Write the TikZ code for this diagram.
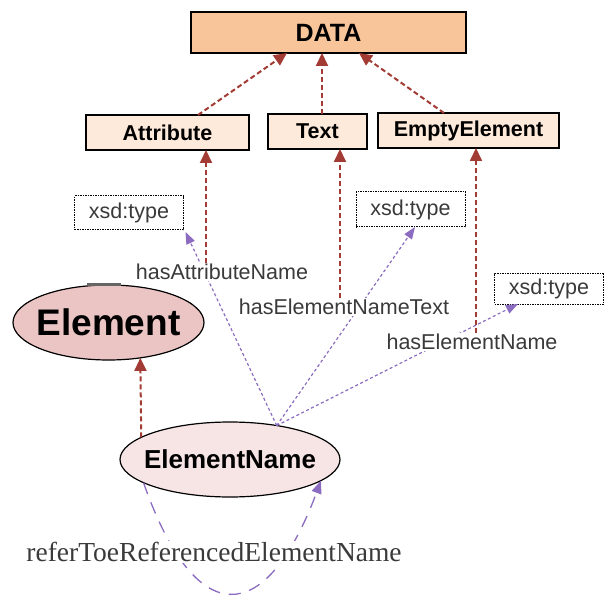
\documentclass[tikz,border=0pt]{standalone}
\usepackage{fontspec}
\setmainfont{Liberation Sans}
\newfontfamily\timesfont{Liberation Serif}
\usepackage{tikz}
\newcommand*{\pageW}{605}
\newcommand*{\pageH}{596}
\usetikzlibrary{positioning}
\usetikzlibrary{shapes.geometric}
\usetikzlibrary{arrows.meta}
\definecolor{dataorange}{HTML}{F8C49A}
\definecolor{classpeach}{HTML}{FDEADB}
\definecolor{elempink}{HTML}{EBC4C4}
\definecolor{namepink}{HTML}{F7E5E5}
\definecolor{domred}{HTML}{A23B33}
\definecolor{rangepurple}{HTML}{8C6CC0}
\definecolor{labelgray}{HTML}{3A3A3A}
\tikzset{ONTstyle/.style={
    x=1pt,y=-1pt,% one unit is one pixel of the reference
    every node/.style={inner sep=0pt,outer sep=0pt},
    topbox/.style={draw,line width=1.3pt,fill=dataorange,
      minimum width=275pt,minimum height=41pt,
      font=\fontsize{25}{30}\selectfont\bfseries},
    classbox/.style={draw,line width=1.3pt,fill=classpeach,
      minimum height=35pt,font=\fontsize{21.5}{26}\selectfont\bfseries},
    typebox/.style={draw,line width=1pt,dash pattern=on 1.5pt off 1pt,
      fill=white,text=labelgray,minimum height=34pt,
      font=\fontsize{21.5}{25}\selectfont},
    classellipse/.style={ellipse,draw,line width=1.2pt,inner sep=-12pt},
    proplabel/.style={fill=white,text=labelgray,inner sep=1pt,
      font=\fontsize{21.5}{25}\selectfont},
    domarrow/.style={draw=domred,line width=2pt,
      dash pattern=on 5pt off 3pt,-{Triangle[length=13pt,width=12pt]}},
    rangearrow/.style={draw=rangepurple,line width=1.2pt,
      dash pattern=on 3pt off 2.5pt,-{Triangle[length=12pt,width=9pt]}},
    loopedge/.style={draw=rangepurple,line width=1.3pt,
      dash pattern=on 12pt off 9pt,-{Triangle[length=13pt,width=10pt]}}
  }
}

\begin{document}
\begin{tikzpicture}[ONTstyle]
    \useasboundingbox (0,0) rectangle (\pageW,\pageH);

    \node[topbox] (data) at (328.5,32.5) {DATA};
    \node[classbox,minimum width=163pt] (attr) at (167.5,132.5) {Attribute};
    \node[classbox,minimum width=99pt] (text) at (317.5,131.5) {Text};
    \node[classbox,minimum width=181pt] (empty) at (468.5,130.5) {EmptyElement};

    \foreach \n/\x/\y/\h in {t1/129/213/34,t2/410.5/209.5/35,t3/549/288.5/31} {
        \node[typebox,minimum width=109pt,minimum height=\h pt] (\n) at (\x,\y) {xsd:type};
    }

    \node[classellipse,fill=elempink,minimum width=191pt,minimum height=75pt,
      font=\fontsize{37}{44}\selectfont\bfseries] (el) at (108.5,322.5) {Element};
    \draw [line width=3pt,gray!80!black] (87,284.5) -- (121,284.5);
    \node[classellipse,fill=namepink,minimum width=220pt,minimum height=75pt,
      font=\fontsize{26}{31}\selectfont\bfseries] (en) at (230,459.5) {ElementName};

    \draw [domarrow] ([xshift=30.5pt]attr.north) -- ([xshift=-41.5pt]data.south);
    \draw [domarrow] ([xshift=4.5pt]text.north) -- ([xshift=-6.5pt]data.south);
    \draw [domarrow] ([xshift=-24.5pt]empty.north) -- ([xshift=30.5pt]data.south);
    \draw [domarrow] (en.166) -- (el.-48);

    \coordinate (hub) at (en.36);
    \draw [rangearrow] (hub) -- ([xshift=2pt,yshift=-2pt]t1.south east);
    \draw [rangearrow] (hub) -- ([xshift=4.5pt]t2.south);
    \draw [rangearrow] (hub) -- ([xshift=-31pt]t3.south);
    \draw [loopedge] (en.195) .. controls (195,630) and (265,630) .. (en.-13);

    \node[proplabel] (hasAttr) at (222,272) {hasAttributeName};
    \node[proplabel] (hasText) at (344,307) {hasElementNameText};
    \node[proplabel] (hasName) at (472,342) {hasElementName};
    \node[fill=white,inner sep=1pt,text=labelgray,
      font=\timesfont\fontsize{27.5}{32}\selectfont] (refer) at (214,552) {referToeReferencedElementName};

    \draw [domarrow] ([xshift=-16pt]hasAttr.north) -- ([xshift=38.5pt]attr.south);
    \draw [domarrow] ([xshift=-4pt]hasText.north) -- ([xshift=22.5pt]text.south);
    \draw [domarrow] ([xshift=4pt]hasName.north) -- ([xshift=7.5pt]empty.south);
\end{tikzpicture}
\end{document}
